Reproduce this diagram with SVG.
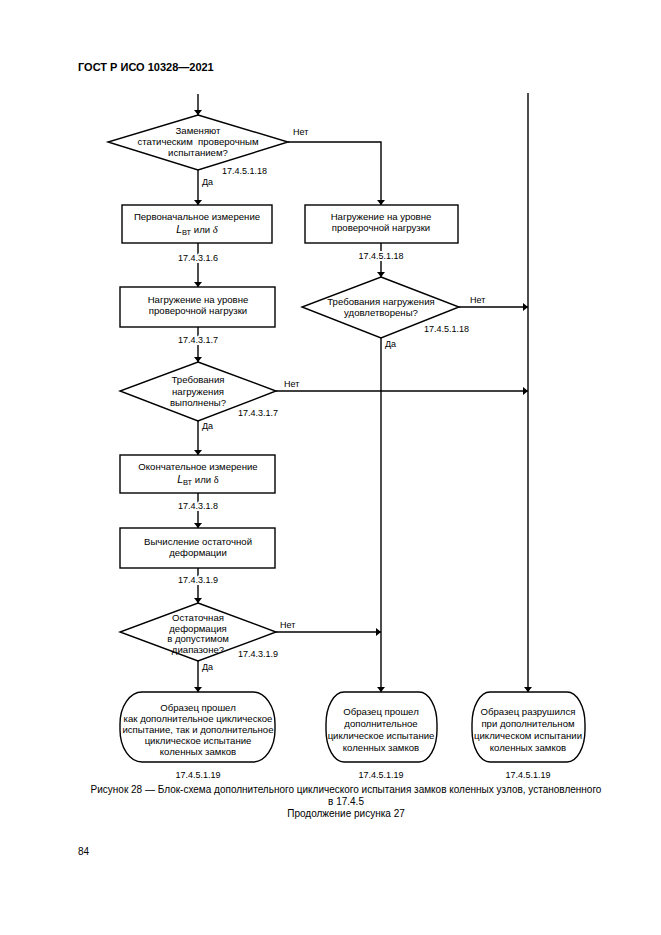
<svg xmlns="http://www.w3.org/2000/svg" width="661" height="935" viewBox="0 0 661 935">
<defs>
<marker id="ah" viewBox="0 0 10 10" refX="10" refY="5" markerWidth="5" markerHeight="8" markerUnits="userSpaceOnUse" orient="auto-start-reverse" preserveAspectRatio="none">
<path d="M0,0 L10,5 L0,10 z" fill="#000"/>
</marker>
<style>
.s{fill:#fff;stroke:#000;stroke-width:1.4}
.c{fill:none;stroke:#000;stroke-width:1.4}
text{font-family:"Liberation Sans",Arial,sans-serif;font-size:9px;fill:#000}
.n{font-size:9.6px}
.m{text-anchor:middle}
.w{stroke:#fff;stroke-width:4;paint-order:stroke}
.h{font-size:11px;font-weight:bold}
.cap{font-size:10px}
</style>
</defs>
<rect width="661" height="935" fill="#fff"/>
<text class="h" x="78" y="71">ГОСТ Р ИСО 10328—2021</text>

<g id="connectors">
<path class="c" d="M198,94 V115" marker-end="url(#ah)"/>
<path class="c" d="M198,170 V205" marker-end="url(#ah)"/>
<path class="c" d="M288,142 H381 V205" marker-end="url(#ah)"/>
<path class="c" d="M198,243 V287" marker-end="url(#ah)"/>
<path class="c" d="M381,243 V277" marker-end="url(#ah)"/>
<path class="c" d="M198,327 V362" marker-end="url(#ah)"/>
<path class="c" d="M459,307 H528" marker-end="url(#ah)"/>
<path class="c" d="M276,391 H528" marker-end="url(#ah)"/>
<path class="c" d="M198,421 V455" marker-end="url(#ah)"/>
<path class="c" d="M198,493 V528" marker-end="url(#ah)"/>
<path class="c" d="M198,568 V603" marker-end="url(#ah)"/>
<path class="c" d="M276,632 H381" marker-end="url(#ah)"/>
<path class="c" d="M198,661 V692" marker-end="url(#ah)"/>
<path class="c" d="M381,338 V692" marker-end="url(#ah)"/>
<path class="c" d="M528,93 V692" marker-end="url(#ah)"/>
<text x="293" y="135">Нет</text>
<text x="222" y="174">17.4.5.1.18</text>
<text x="202" y="185">Да</text>
<text class="m w" x="198" y="261">17.4.3.1.6</text>
<text class="m w" x="381" y="259">17.4.5.1.18</text>
<text class="m w" x="198" y="343">17.4.3.1.7</text>
<text x="470" y="303">Нет</text>
<text x="424" y="332">17.4.5.1.18</text>
<text x="385" y="347">Да</text>
<text x="284" y="387">Нет</text>
<text x="238" y="416">17.4.3.1.7</text>
<text x="202" y="429">Да</text>
<text class="m w" x="198" y="509">17.4.3.1.8</text>
<text class="m w" x="198" y="583">17.4.3.1.9</text>
<text x="280" y="628">Нет</text>
<text x="238" y="657">17.4.3.1.9</text>
<text x="202" y="670">Да</text>
</g>

<g id="d1">
<polygon class="s" points="198,115 288,142 198,170 108,142"/>
<text class="m n" x="198" y="134">Заменяют</text>
<text class="m n" x="198" y="145" xml:space="preserve">статическим  проверочным</text>
<text class="m n" x="198" y="156">испытанием?</text>
</g>

<g id="b1">
<rect class="s" x="122" y="205" width="150" height="38"/>
<text class="m n" x="197" y="220">Первоначальное измерение</text>
<text class="m n" x="197" y="233"><tspan font-style="italic" font-size="10.5">L</tspan><tspan font-size="7.5" dy="2">ВТ</tspan><tspan dy="-2"> или </tspan><tspan font-style="italic" font-family="Liberation Serif" font-size="10.5">δ</tspan></text>
</g>

<g id="r1">
<rect class="s" x="305" y="205" width="153" height="38"/>
<text class="m n" x="381" y="220">Нагружение на уровне</text>
<text class="m n" x="381" y="231">проверочной нагрузки</text>
</g>

<g id="b2">
<rect class="s" x="120" y="287" width="155" height="40"/>
<text class="m n" x="198" y="303">Нагружение на уровне</text>
<text class="m n" x="198" y="314">проверочной нагрузки</text>
</g>

<g id="rd">
<polygon class="s" points="381,277 459,307 381,338 302,307"/>
<text class="m n" x="381" y="305">Требования нагружения</text>
<text class="m n" x="381" y="316">удовлетворены?</text>
</g>

<g id="d2">
<polygon class="s" points="198,362 276,391 198,421 120,391"/>
<text class="m n" x="198" y="383">Требования</text>
<text class="m n" x="198" y="395">нагружения</text>
<text class="m n" x="198" y="406">выполнены?</text>
</g>

<g id="b3">
<rect class="s" x="120" y="455" width="155" height="38"/>
<text class="m n" x="198" y="470">Окончательное измерение</text>
<text class="m n" x="198" y="483"><tspan font-style="italic" font-size="10.5">L</tspan><tspan font-size="7.5" dy="2">ВТ</tspan><tspan dy="-2"> или </tspan><tspan font-family="Liberation Serif" font-size="10.5">δ</tspan></text>
</g>

<g id="b4">
<rect class="s" x="120" y="528" width="155" height="40"/>
<text class="m n" x="198" y="545">Вычисление остаточной</text>
<text class="m n" x="198" y="556">деформации</text>
</g>

<g id="d3">
<polygon class="s" points="198,603 276,632 198,661 120,632"/>
<text class="m n" x="198" y="621">Остаточная</text>
<text class="m n" x="198" y="631.5">деформация</text>
<text class="m n" x="198" y="642">в допустимом</text>
<text class="m n" x="198" y="652.5">диапазоне?</text>
</g>

<g id="t1">
<rect class="s" x="120" y="692" width="155" height="70" rx="22" ry="32"/>
<text class="m n" x="198" y="711">Образец прошел</text>
<text class="m n" x="198" y="722">как дополнительное циклическое</text>
<text class="m n" x="198" y="733">испытание, так и дополнительное</text>
<text class="m n" x="198" y="744">циклическое испытание</text>
<text class="m n" x="198" y="755">коленных замков</text>
<text class="m" x="198" y="778">17.4.5.1.19</text>
</g>

<g id="t2">
<rect class="s" x="326" y="692" width="111" height="70" rx="18" ry="32"/>
<text class="m n" x="381" y="715">Образец прошел</text>
<text class="m n" x="381" y="727">дополнительное</text>
<text class="m n" x="381" y="739">циклическое испытание</text>
<text class="m n" x="381" y="751">коленных замков</text>
<text class="m" x="381" y="778">17.4.5.1.19</text>
</g>

<g id="t3">
<rect class="s" x="472" y="692" width="113" height="70" rx="18" ry="32"/>
<text class="m n" x="528" y="715">Образец разрушился</text>
<text class="m n" x="528" y="727">при дополнительном</text>
<text class="m n" x="528" y="739">циклическом испытании</text>
<text class="m n" x="528" y="751">коленных замков</text>
<text class="m" x="528" y="778">17.4.5.1.19</text>
</g>

<text class="m cap" x="346" y="793">Рисунок 28 — Блок-схема дополнительного циклического испытания замков коленных узлов, установленного</text>
<text class="m cap" x="346" y="805">в 17.4.5</text>
<text class="m cap" x="346" y="817">Продолжение рисунка 27</text>
<text class="cap" x="78" y="855">84</text>
</svg>
